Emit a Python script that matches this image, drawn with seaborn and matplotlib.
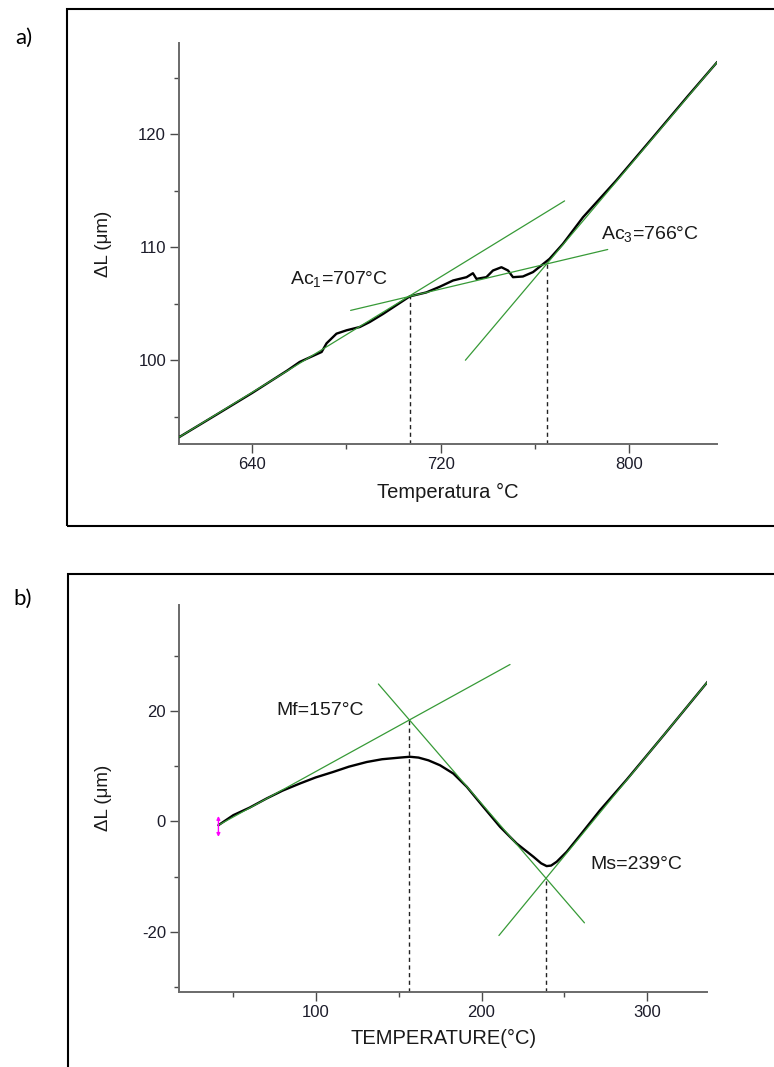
import numpy as np
import pandas as pd
import matplotlib
matplotlib.use("Agg")
import matplotlib.pyplot as plt
import seaborn as sns
from matplotlib.patches import Rectangle
from matplotlib.ticker import FixedLocator

# ---------------- data: panel a) heating ----------------
top_T = [609.1, 625, 640, 655, 660.2, 669.5, 671.6, 675.8, 680.1, 685.7, 689.9, 695.6,
         706.9, 713.9, 719.6, 725.3, 731.0, 733.7, 735.2, 739.4, 742.2, 745.8, 748.6,
         750.7, 754.9, 759.2, 762.7, 766.2, 771.9, 780.4, 794.5, 810.0, 825.0, 837.4]
top_dL = [93.2, 95.2, 97.1, 99.1, 99.85, 100.73, 101.5, 102.35, 102.65, 102.94, 103.38, 104.1,
          105.65, 106.0, 106.5, 107.06, 107.35, 107.7, 107.2, 107.35, 107.94, 108.23, 107.94,
          107.35, 107.41, 107.8, 108.38, 108.97, 110.3, 112.65, 115.9, 119.7, 123.4, 126.4]
top_fit_T = [[609.1, 772.6], [681.8, 790.9], [730.5, 837.4]]
top_fit_dL = [[93.2, 114.1], [104.41, 109.8], [100.0, 126.4]]
top_trans_T = [706.9, 765.3]
top_trans_dL = [105.65, 108.6]
top_labels = ["Ac$_\\mathregular{1}$=707°C", "Ac$_\\mathregular{3}$=766°C"]
top_label_T = [656.0, 787.9]
top_label_dL = [107.2, 111.2]
top_xticks = [640, 720, 800]
top_xminor = [680, 760]
top_yticks = [100, 110, 120]
top_yminor = [95, 105, 115, 125]

# ---------------- data: panel b) cooling ----------------
bot_T = [41.3, 50.3, 60.0, 70.4, 80.0, 90.5, 100.0, 110.6, 120.0, 130.8, 140.0, 150.8, 156.8,
         162.0, 168.0, 175.0, 183.0, 191.1, 201.1, 211.2, 221.2, 231.3, 236.0, 239.3, 242.0,
         245.4, 251.4, 260.0, 271.5, 287.7, 310.0, 336.5]
bot_dL = [-0.67, 1.15, 2.5, 4.18, 5.6, 6.9, 8.0, 9.0, 9.95, 10.8, 11.3, 11.6, 11.75,
          11.6, 11.1, 10.2, 8.7, 6.3, 2.65, -0.98, -4.0, -6.4, -7.6, -8.1, -8.0,
          -7.3, -5.5, -2.3, 2.05, 7.64, 15.7, 25.4]
bot_fit_T = [[41.3, 217.2], [137.8, 262.1], [210.5, 336.5]]
bot_fit_dL = [[-0.67, 28.5], [24.96, -18.4], [-20.7, 25.4]]
bot_trans_T = [156.5, 239.2]
bot_trans_dL = [18.4, -10.4]
bot_labels = ["Mf=157°C", "Ms=239°C"]
bot_label_T = [76.1, 265.8]
bot_label_dL = [20.2, -7.8]
bot_arrow_T = [41.3]
bot_arrow_dL = [1.0, -2.8]
bot_xticks = [100, 200, 300]
bot_xminor = [50, 150, 250]
bot_yticks = [-20, 0, 20]
bot_yminor = [-30, -10, 10, 30]

# ---------------- style ----------------
sns.set_theme(style="white")
plt.rcParams["font.family"] = ["Liberation Sans", "DejaVu Sans"]
plt.rcParams["mathtext.fontset"] = "custom"
plt.rcParams["mathtext.rm"] = "Liberation Sans"
plt.rcParams["mathtext.it"] = "Liberation Sans:italic"
plt.rcParams["axes.unicode_minus"] = False

W, H = 774, 1067
fig = plt.figure(figsize=(W / 100, H / 100), dpi=100)
fig.patch.set_facecolor("white")


def px_axes(l, t, r, b):
    return fig.add_axes([l / W, 1 - b / H, (r - l) / W, (b - t) / H])


GREEN = "#379a37"
SPINE = "#6a6a6a"
TXT = "#1a1a1a"


def draw_panel(ax, T, dL, fitT, fitdL, trT, trdL, labs, labT, labdL,
               xlim, ylim, xt, xm, yt, ym, xlabel, xlab_y, ylab_x):
    df = pd.DataFrame({"T": T, "dL": dL})
    sns.lineplot(data=df, x="T", y="dL", ax=ax, color="black", lw=1.7,
                 sort=False, estimator=None, zorder=3)
    for fx, fy in zip(fitT, fitdL):
        sns.lineplot(x=fx, y=fy, ax=ax, color=GREEN, lw=0.9, sort=False,
                     estimator=None, zorder=4)
    ax.vlines(trT, ylim[0], trdL, colors="#222222", linestyles=(0, (3, 2.5)),
              lw=1.0, zorder=2)
    for s, x, y in zip(labs, labT, labdL):
        ax.text(x, y, s, fontsize=14, color=TXT, ha="left", va="center")
    ax.set_xlim(*xlim)
    ax.set_ylim(*ylim)
    ax.xaxis.set_major_locator(FixedLocator(xt))
    ax.xaxis.set_minor_locator(FixedLocator(xm))
    ax.yaxis.set_major_locator(FixedLocator(yt))
    ax.yaxis.set_minor_locator(FixedLocator(ym))
    sns.despine(ax=ax)
    for side in ("left", "bottom"):
        ax.spines[side].set_color(SPINE)
        ax.spines[side].set_linewidth(1.4)
    ax.tick_params(which="both", bottom=True, left=True, direction="out",
                   color="#4a4a4a", width=1.0)
    ax.tick_params(which="major", length=6.5, labelsize=12, labelcolor="#1c1c2a", pad=3.0)
    ax.tick_params(which="minor", length=3.5)
    ax.set_xlabel(xlabel, fontsize=14.5, color=TXT)
    ax.set_ylabel("ΔL (μm)", fontsize=13.5, color=TXT)
    ax.xaxis.set_label_coords(0.5, xlab_y)
    ax.xaxis.label.set_va("center")
    ax.yaxis.set_label_coords(ylab_x, 0.5)
    ax.yaxis.label.set_va("center")
    ax.grid(False)


ax1 = px_axes(179.3, 42.7, 717.3, 444.3)
draw_panel(ax1, top_T, top_dL, top_fit_T, top_fit_dL, top_trans_T, top_trans_dL,
           top_labels, top_label_T, top_label_dL,
           (609.1, 837.4), (92.56, 128.1), top_xticks, top_xminor, top_yticks, top_yminor,
           "Temperatura °C", (444.3 - 492.7) / 401.6, (103 - 179.3) / 538)

ax2 = px_axes(179.3, 605, 707.3, 991.7)
draw_panel(ax2, bot_T, bot_dL, bot_fit_T, bot_fit_dL, bot_trans_T, bot_trans_dL,
           bot_labels, bot_label_T, bot_label_dL,
           (17.7, 336.2), (-30.9, 39.3), bot_xticks, bot_xminor, bot_yticks, bot_yminor,
           "TEMPERATURE(°C)", (991.7 - 1038) / 386.7, (103.5 - 179.3) / 528)

# magenta double arrow at start of cooling curve
ax2.annotate("", xy=(bot_arrow_T[0], bot_arrow_dL[1]), xytext=(bot_arrow_T[0], bot_arrow_dL[0]),
             arrowprops=dict(arrowstyle="<|-|>", color="#ff00ff", lw=1.0,
                             mutation_scale=5, shrinkA=0, shrinkB=0), zorder=5)

# panel frames
fig.add_artist(Rectangle((66.7 / W, 1 - 526 / H), (800 - 66.7) / W, (526 - 9.3) / H,
                         transform=fig.transFigure, fill=False, ec="black", lw=1.5))
fig.add_artist(Rectangle((67.7 / W, 1 - 1090 / H), (800 - 67.7) / W, (1090 - 574) / H,
                         transform=fig.transFigure, fill=False, ec="black", lw=1.5))

fig.text(15 / W, 1 - 38 / H, "a)", fontsize=16, ha="left", va="center",
         family=["Lato", "DejaVu Sans"], color="black")
fig.text(13 / W, 1 - 599 / H, "b)", fontsize=16, ha="left", va="center",
         family=["Lato", "DejaVu Sans"], color="black")

fig.savefig("out.png", dpi=100, facecolor="white")
